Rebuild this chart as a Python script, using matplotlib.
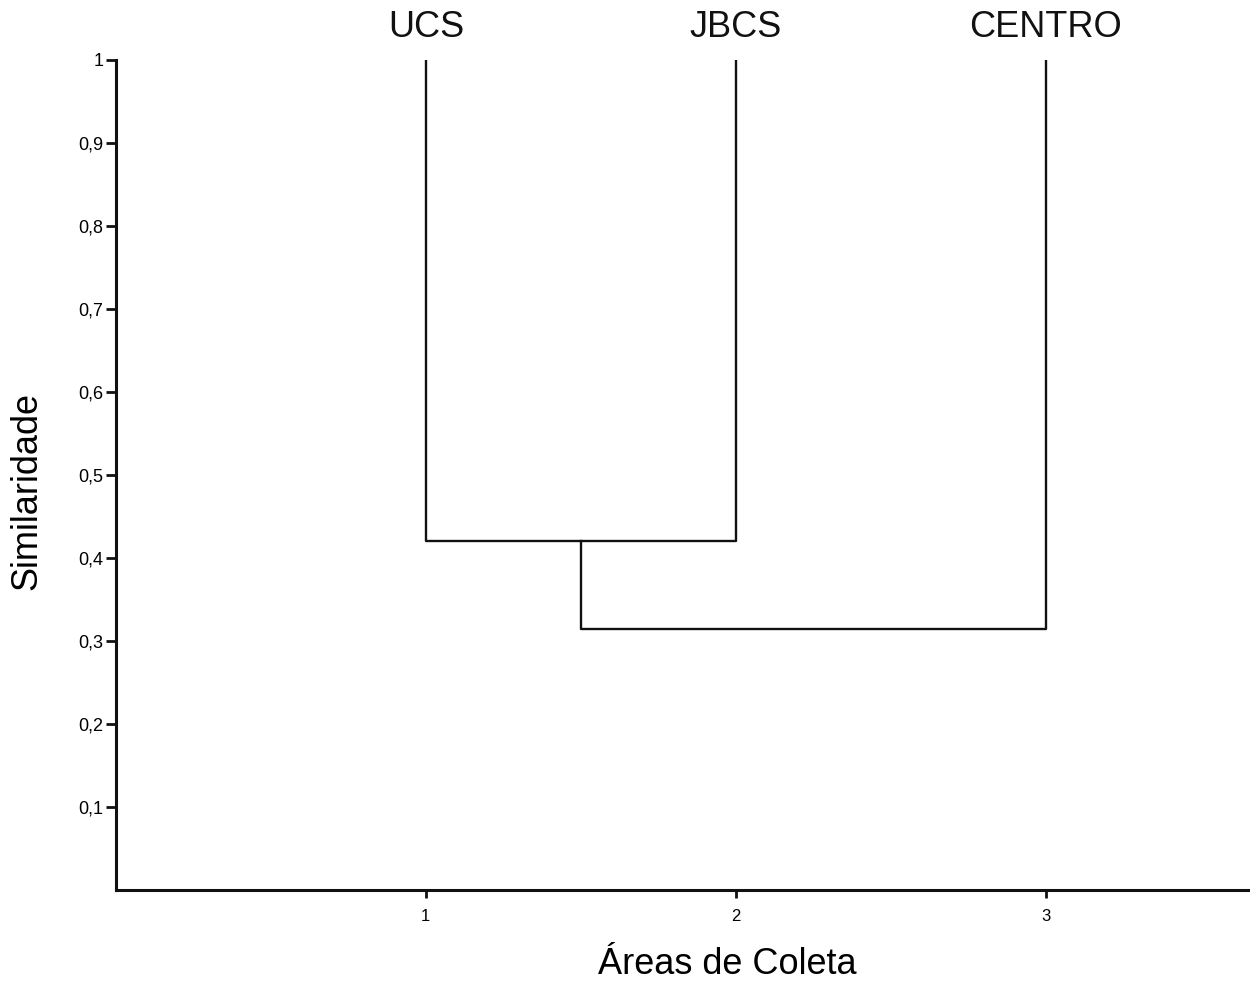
import matplotlib
matplotlib.use("Agg")
from matplotlib import pyplot as plt

# leaves of the dendrogram and the merge heights (similarity)
leaves = ['UCS', 'JBCS', 'CENTRO']
leaf_pos = [1, 2, 3]
leaf_top = 1.0
merge_1 = 0.42    # UCS + JBCS
merge_2 = 0.315   # (UCS, JBCS) + CENTRO

y_ticks = [0.1, 0.2, 0.3, 0.4, 0.5, 0.6, 0.7, 0.8, 0.9, 1.0]
y_tick_labels = ['0,1', '0,2', '0,3', '0,4', '0,5', '0,6', '0,7', '0,8', '0,9', '1']
x_ticks = [1, 2, 3]

plt.rcParams['font.family'] = ['Liberation Sans', 'DejaVu Sans']

fig = plt.figure(figsize=(12.5, 9.83), dpi=100)
ax = fig.add_axes([0.0928, 0.0946, 0.9072, 0.8444])

lw = 1.7
c = '#111111'
# first cluster
mid_1 = (leaf_pos[0] + leaf_pos[1]) / 2
ax.plot([leaf_pos[0], leaf_pos[0], leaf_pos[1], leaf_pos[1]],
        [leaf_top, merge_1, merge_1, leaf_top], color=c, lw=lw)
# second cluster
ax.plot([mid_1, mid_1, leaf_pos[2], leaf_pos[2]],
        [merge_1, merge_2, merge_2, leaf_top], color=c, lw=lw)

for name, x in zip(leaves, leaf_pos):
    ax.text(x, 1.039, name, ha='center', va='center', fontsize=26,
            clip_on=False, color=c)

ax.set_xlim(0, 3.66)
ax.set_ylim(0, 1)
ax.set_xticks(x_ticks)
ax.set_xticklabels([str(v) for v in x_ticks], fontsize=12)
ax.set_yticks(y_ticks)
ax.set_yticklabels(y_tick_labels, fontsize=13)
ax.tick_params(axis='y', length=7, width=2, color=c, pad=2)
ax.tick_params(axis='x', length=6, width=2, color=c, pad=8)

for s in ['top', 'right']:
    ax.spines[s].set_visible(False)
for s in ['left', 'bottom']:
    ax.spines[s].set_linewidth(2.2)
    ax.spines[s].set_color(c)

ax.set_xlabel('Áreas de Coleta', fontsize=26)
ax.xaxis.set_label_coords(0.539, -0.069)
ax.set_ylabel('Similaridade', fontsize=26)
ax.yaxis.set_label_coords(-0.0635, 0.481)

fig.savefig('out.png', dpi=100)
